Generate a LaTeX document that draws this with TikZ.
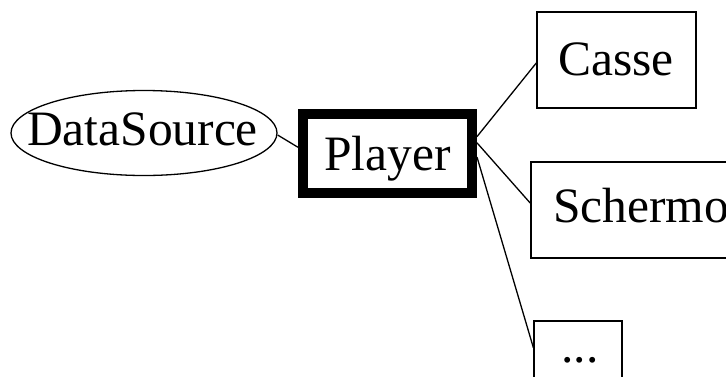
\documentclass[tikz,border=0pt]{standalone}
\usepackage{fontspec}
\setmainfont{Liberation Serif}
\usetikzlibrary{shapes.geometric,calc}

\tikzset{
  thinline/.style={line width=1.3pt, black},
  shapebox/.style={draw, thinline, rectangle, inner sep=0pt},
  heavybox/.style={draw, rectangle, line width=10pt, inner sep=0pt},
  oval/.style={draw, thinline, ellipse, inner sep=0pt},
  caption/.style={anchor=base, inner sep=0pt, font=\fontsize{49.5}{59}\selectfont},
  link/.style={thinline}
}

\begin{document}
\begin{tikzpicture}[x=1pt, y=-1pt]
  \useasboundingbox (0,0) rectangle (726,376);
  \clip (0,0) rectangle (726,376);

  % shapes
  \node[oval, minimum width=266pt, minimum height=85pt] (ds) at (144,133) {};
  \node[heavybox, minimum width=169pt, minimum height=79pt] (player) at (387.5,153.5) {};
  \node[shapebox, minimum width=159pt, minimum height=96pt] (casse) at (616.5,60) {};
  \node[shapebox, minimum width=220pt, minimum height=96pt] (schermo) at (641,210) {};
  \node[shapebox, minimum width=88pt, minimum height=96pt] (more) at (578,369) {};

  % labels
  \node[caption] (dsText) at (142.5,145) {DataSource};
  \node[caption] (playerText) at (387.5,170) {Player};
  \node[caption] (casseText) at (616,75) {Casse};
  \node[caption, anchor=base west] (schermoText) at (553,222) {Schermo};
  \node[caption] (moreText) at (580,362) {...};

  % connectors
  \draw[link] ($(ds.east)+(0,2)$) -- ($(player.north west)!0.43!(player.south west)$);
  \draw[link] ($(player.north east)!0.31!(player.south east)$) -- ($(casse.north west)!0.53!(casse.south west)$);
  \draw[link] ($(player.north east)!0.38!(player.south east)$) -- ($(schermo.north west)!0.43!(schermo.south west)$);
  \draw[link] ($(player.north east)!0.54!(player.south east)$) -- ($(more.north west)!0.28!(more.south west)$);
\end{tikzpicture}
\end{document}
